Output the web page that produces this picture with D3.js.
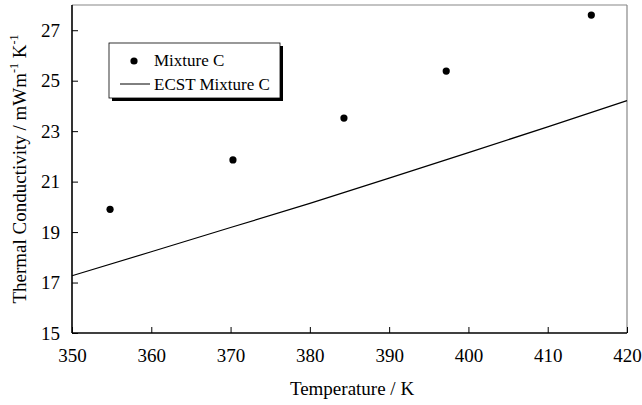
<!DOCTYPE html>
<html><head><meta charset="utf-8">
<script src="https://cdn.jsdelivr.net/npm/d3@7"></script>
<style>body{margin:0;background:#fff}svg{display:block}svg text{font-family:"Liberation Serif","Times New Roman",Times,serif;fill:#000}</style>
</head><body><svg id="c" width="642" height="405"></svg>
<script>
const xTicks = [350,360,370,380,390,400,410,420];
const yTicks = [15,17,19,21,23,25,27];
const measT = [354.8,370.3,384.3,397.2,415.5];
const measK = [19.9,21.86,23.52,25.38,27.6];
const ecstT = [350,360,370,380,390,400,410,420];
const ecstK = [17.27,18.22,19.18,20.14,21.14,22.15,23.17,24.21];
const legendLabels = ["Mixture C","ECST Mixture C"];

const svg = d3.select("#c");
const L=72,R=627,T=5,B=333;
const x = d3.scaleLinear().domain([350,420]).range([L,R]);
const y = d3.scaleLinear().domain([15,28]).range([B,T]);

svg.append("line").attr("x1",L).attr("x2",R).attr("y1",T).attr("y2",T).attr("stroke","#888").attr("stroke-width",1.2);
svg.append("line").attr("x1",R).attr("x2",R).attr("y1",T).attr("y2",B).attr("stroke","#888").attr("stroke-width",1.2);

const xa = svg.append("g").attr("transform",`translate(0,${B})`)
  .call(d3.axisBottom(x).tickValues(xTicks).tickSizeInner(-6).tickSizeOuter(0).tickPadding(16).tickFormat(d3.format("d")));
const ya = svg.append("g").attr("transform",`translate(${L},0)`)
  .call(d3.axisLeft(y).tickValues(yTicks).tickSizeInner(-6).tickSizeOuter(0).tickPadding(12).tickFormat(d3.format("d")));
[xa,ya].forEach(a=>{a.attr("font-family",null);
  a.select(".domain").attr("stroke","#000").attr("stroke-width",1.6);
  a.selectAll(".tick line").attr("stroke","#000").attr("stroke-width",1);
  a.selectAll("text").attr("font-size",19);});
ya.select(".domain").attr("d",`M0,${T}V${B}`);
xa.select(".domain").attr("d",`M${L},0H${R}`);

svg.append("path").datum(ecstT.map((t,i)=>[t,ecstK[i]]))
  .attr("d",d3.line().x(d=>x(d[0])).y(d=>y(d[1])))
  .attr("fill","none").attr("stroke","#000").attr("stroke-width",1.2);
svg.selectAll("circle.m").data(measT.map((t,i)=>[t,measK[i]])).enter().append("circle")
  .attr("cx",d=>x(d[0])).attr("cy",d=>y(d[1])).attr("r",3.6).attr("fill","#000");

const lg = svg.append("g");
lg.append("rect").attr("x",112).attr("y",46).attr("width",171).attr("height",55).attr("fill","#000");
lg.append("rect").attr("x",109).attr("y",43).attr("width",171).attr("height",55).attr("fill","#fff").attr("stroke","#000").attr("stroke-width",0.8);
lg.append("circle").attr("cx",134).attr("cy",61).attr("r",3.6).attr("fill","#000");
lg.append("line").attr("x1",120).attr("x2",150).attr("y1",84).attr("y2",84).attr("stroke","#000").attr("stroke-width",1);
lg.append("text").attr("x",154).attr("y",66).attr("font-size",17).text(legendLabels[0]);
lg.append("text").attr("x",154).attr("y",90).attr("font-size",17).text(legendLabels[1]);

svg.append("text").attr("x",352).attr("y",395).attr("text-anchor","middle").attr("font-size",19).text("Temperature / K");
const yt = svg.append("text").attr("transform",`translate(26,${(T+B)/2}) rotate(-90)`).attr("text-anchor","middle").attr("font-size",19);
yt.append("tspan").text("Thermal Conductivity / mWm");
yt.append("tspan").attr("dy",-8).attr("font-size",12).text("-1");
yt.append("tspan").attr("dy",8).text(" K");
yt.append("tspan").attr("dy",-8).attr("font-size",12).text("-1");
</script></body></html>
